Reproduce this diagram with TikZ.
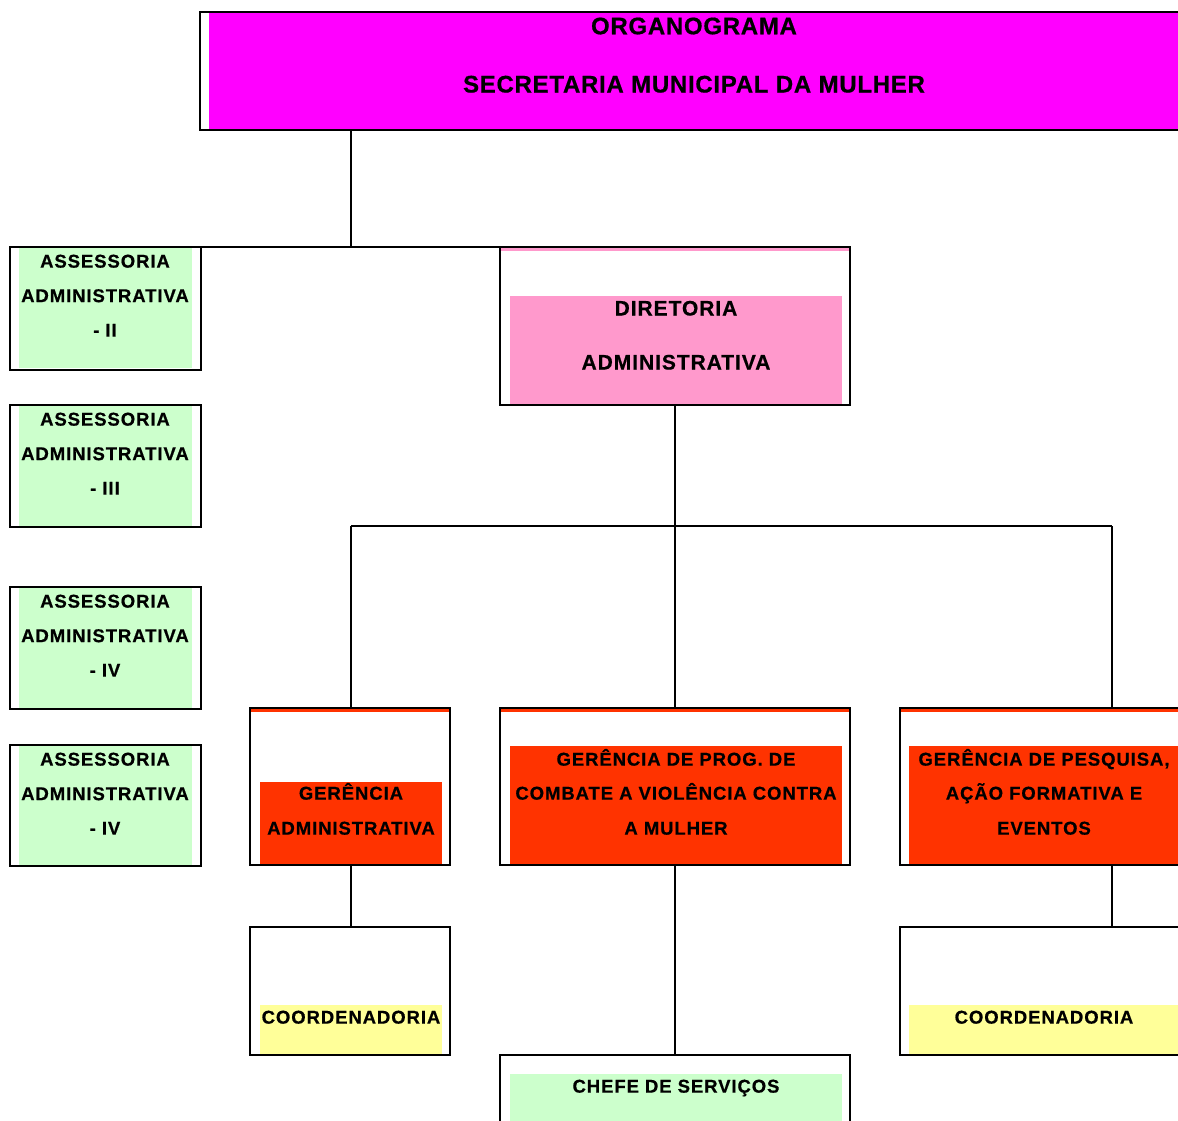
\documentclass[tikz,border=0pt]{standalone}
\usepackage{fontspec}
\setmainfont{Liberation Sans}
\newfontfamily\smfont{Liberation Sans}[LetterSpace=5,FakeBold=0.6]
\newfontfamily\mdfont{Liberation Sans}[LetterSpace=4.5,FakeBold=0.6]
\newfontfamily\lgfont{Liberation Sans}[LetterSpace=3,FakeBold=0.6]
\definecolor{cmag}{HTML}{FF00FF}
\definecolor{cpink}{HTML}{FF99CC}
\definecolor{cred}{HTML}{FF3300}
\definecolor{cgreen}{HTML}{CCFFCC}
\definecolor{cyel}{HTML}{FFFF99}
\begin{document}
\begin{tikzpicture}[x=1pt,y=-1pt,
  frame/.style={draw=black, line width=2pt, inner sep=0pt, outer sep=0pt, anchor=north west},
  conn/.style={draw=black, line width=1.3pt},
  sm/.style={font=\smfont\bfseries\fontsize{18.5}{18.5}\selectfont, inner sep=0pt, anchor=base},
  md/.style={font=\mdfont\bfseries\fontsize{21}{21}\selectfont, inner sep=0pt, anchor=base},
  lg/.style={font=\lgfont\bfseries\fontsize{24}{24}\selectfont, inner sep=0pt, anchor=base}
]
\useasboundingbox (0,0) rectangle (1178,1120);
\fill[white] (0,0) rectangle (1178,1120);
\clip (0,0) rectangle (1178,1120);

% fills
\fill[cmag] (209,13) rectangle (1200,129);
\foreach \t in {247,405,587,745} {\fill[cgreen] (19,\t+1) rectangle (192,\t+121);}
\fill[cpink] (501,248) rectangle (849,251);
\fill[cpink] (510,296) rectangle (842,405);
\fill[cred] (251,709) rectangle (449,712);
\fill[cred] (260,782) rectangle (442,865);
\fill[cred] (501,709) rectangle (849,712);
\fill[cred] (510,746) rectangle (842,865);
\fill[cred] (901,709) rectangle (1200,712);
\fill[cred] (909,746) rectangle (1200,865);
\fill[cyel] (260,1005) rectangle (442,1054);
\fill[cyel] (909,1005) rectangle (1200,1054);
\fill[cgreen] (510,1074) rectangle (842,1130);

% frames
\node[frame, minimum width=1000pt, minimum height=118pt] (title) at (200,12) {};
\node[frame, minimum width=191pt, minimum height=123pt] (ass2) at (10,247) {};
\node[frame, minimum width=191pt, minimum height=122pt] (ass3) at (10,405) {};
\node[frame, minimum width=191pt, minimum height=122pt] (ass4) at (10,587) {};
\node[frame, minimum width=191pt, minimum height=121pt] (ass5) at (10,745) {};
\node[frame, minimum width=350pt, minimum height=158pt] (dir) at (500,247) {};
\node[frame, minimum width=200pt, minimum height=157pt] (gadm) at (250,708) {};
\node[frame, minimum width=350pt, minimum height=157pt] (gprog) at (500,708) {};
\node[frame, minimum width=400pt, minimum height=157pt] (gpesq) at (900,708) {};
\node[frame, minimum width=200pt, minimum height=128pt] (coord1) at (250,927) {};
\node[frame, minimum width=400pt, minimum height=128pt] (coord2) at (900,927) {};
\node[frame, minimum width=350pt, minimum height=100pt] (chefe) at (500,1055) {};

% connectors
\coordinate (j1) at (351,247);
\coordinate (j2) at (351,526);
\coordinate (j3) at (1112,526);
\draw[conn] (title.south west -| j1) -- (j1);
\draw[conn] (ass2.north east) -- (dir.north west);
\draw[conn] (dir.south) -- (gprog.north);
\draw[conn] (j2) -- (j3);
\draw[conn] (j2) -- (gadm.north -| j2);
\draw[conn] (j3) -- (gpesq.north -| j3);
\draw[conn] (gadm.south -| j2) -- (coord1.north -| j2);
\draw[conn] (gpesq.south -| j3) -- (coord2.north -| j3);
\draw[conn] (gprog.south) -- (chefe.north);

% texts
\node[lg] (t1) at (694,34.3) {ORGANOGRAMA};
\node[lg] (t2) at (694,92.5) {SECRETARIA MUNICIPAL DA MULHER};
\foreach \t/\r [count=\i] in {247/II,405/III,587/IV,745/IV} {
  \node[sm] (a\i a) at (105,\t+20.6) {ASSESSORIA};
  \node[sm] (a\i b) at (105,\t+55.1) {ADMINISTRATIVA};
  \node[sm] (a\i c) at (105,\t+89.6) {- \r};
}
\node[md] (d1) at (676,315.5) {DIRETORIA};
\node[md] (d2) at (676,369.5) {ADMINISTRATIVA};
\node[sm] (ga1) at (351,799.6) {GERÊNCIA};
\node[sm] (ga2) at (351,834.6) {ADMINISTRATIVA};
\node[sm] (gp1) at (676,765.6) {GERÊNCIA DE PROG. DE};
\node[sm] (gp2) at (676,799.6) {COMBATE A VIOLÊNCIA CONTRA};
\node[sm] (gp3) at (676,834.6) {A MULHER};
\node[sm] (gq1) at (1044,765.6) {GERÊNCIA DE PESQUISA,};
\node[sm] (gq2) at (1044,799.6) {AÇÃO FORMATIVA E};
\node[sm] (gq3) at (1044,834.6) {EVENTOS};
\node[sm] (c1) at (351,1023.6) {COORDENADORIA};
\node[sm] (c2) at (1044,1023.6) {COORDENADORIA};
\node[sm] (ch) at (676,1092.6) {CHEFE DE SERVIÇOS};
\end{tikzpicture}
\end{document}
